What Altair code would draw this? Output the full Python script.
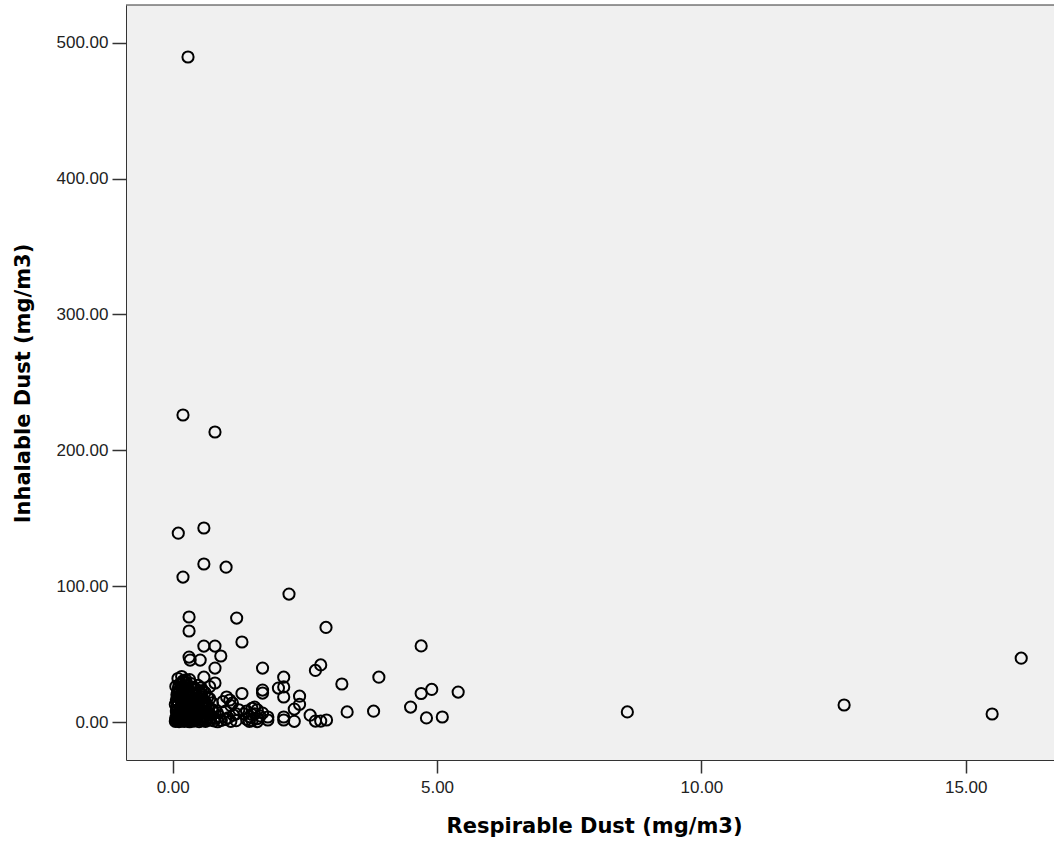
import altair as alt
import pandas as pd

# ---- data ----
# isolated / clearly readable points
x_out = [0.29, 0.195, 0.80, 0.106, 0.59, 0.195, 0.59, 1.01, 2.20, 0.31, 1.21, 0.31, 2.90,
         1.31, 0.59, 0.80, 4.70, 0.31, 0.33, 0.52, 0.91, 0.80, 1.70, 2.80, 2.70, 16.05,
         3.90, 3.20, 4.90, 4.70, 5.40, 2.10, 2.10, 2.00, 1.70, 1.70, 1.31, 2.40, 2.10,
         2.40, 2.30, 2.60, 2.70, 2.80, 2.91, 2.30, 2.10, 2.10, 1.80, 1.80, 1.70, 3.30,
         3.80, 4.50, 4.80, 5.10, 8.60, 12.70, 15.50, 0.19, 0.59, 0.80, 0.70, 1.02, 1.08, 1.13]
y_out = [489.5, 226.0, 213.5, 139.0, 142.8, 106.7, 116.3, 114.0, 94.2, 77.3, 76.5, 67.0, 69.6,
         58.9, 55.9, 55.9, 56.0, 47.8, 45.6, 45.6, 48.6, 39.7, 39.7, 42.0, 38.0, 47.0,
         33.0, 28.0, 24.0, 21.0, 22.0, 33.0, 25.8, 25.0, 23.5, 21.3, 21.0, 19.0, 18.4,
         13.0, 9.5, 5.0, 0.7, 0.7, 1.5, 0.5, 3.7, 1.5, 3.7, 1.5, 6.6, 7.4,
         8.0, 11.0, 3.0, 3.7, 7.4, 12.5, 5.9, 30.0, 33.0, 28.7, 26.0, 18.4, 16.2, 14.0]

# dense cluster near the origin
x_dense = [0.05, 0.08, 0.12, 0.15, 0.18, 0.22, 0.25, 0.28, 0.32, 0.35, 0.40, 0.45, 0.50, 0.55, 0.62, 0.70, 0.78, 0.85, 0.92,
           0.06, 0.09, 0.11, 0.14, 0.17, 0.20, 0.24, 0.27, 0.30, 0.34, 0.38, 0.42, 0.47, 0.52, 0.58, 0.65, 0.72, 0.80, 0.88,
           0.07, 0.10, 0.13, 0.16, 0.19, 0.23, 0.26, 0.29, 0.33, 0.37, 0.41, 0.46, 0.51, 0.56, 0.63, 0.69, 0.76, 0.84,
           0.08, 0.11, 0.14, 0.18, 0.21, 0.25, 0.29, 0.33, 0.38, 0.43, 0.49, 0.55, 0.61, 0.68, 0.75,
           0.07, 0.12, 0.16, 0.20, 0.24, 0.28, 0.33, 0.39, 0.45, 0.52, 0.60, 0.66,
           0.09, 0.14, 0.19, 0.24, 0.30, 0.36, 0.43, 0.50, 0.57,
           0.12, 0.20, 0.28, 0.35]
y_dense = [0.5, 1.2, 0.3, 1.8, 0.8, 0.4, 1.5, 0.9, 0.2, 1.1, 0.6, 1.7, 0.3, 1.0, 0.5, 1.4, 0.8, 0.2, 1.2,
           3.2, 4.5, 2.4, 5.1, 3.8, 2.6, 4.9, 3.3, 5.6, 2.8, 4.1, 3.5, 5.3, 2.2, 4.4, 3.0, 5.0, 2.7, 4.2,
           7.5, 6.3, 9.1, 8.2, 6.8, 9.6, 7.1, 8.7, 6.1, 9.3, 7.8, 6.6, 8.9, 7.3, 9.8, 6.4, 8.0, 7.0,
           11.2, 13.8, 10.5, 12.6, 14.4, 11.7, 13.1, 10.9, 14.8, 12.2, 11.0, 13.6, 12.9, 10.4, 14.1,
           16.3, 18.5, 15.6, 19.2, 17.1, 15.9, 18.8, 16.7, 19.6, 17.5, 15.3, 18.1,
           21.5, 23.8, 20.6, 24.9, 22.3, 20.9, 24.2, 21.8, 23.1,
           27.5, 29.0, 26.5, 28.2]

# more of the solid black mass
x_dense2 = [0.06, 0.10, 0.13, 0.17, 0.21, 0.26, 0.31, 0.36, 0.41, 0.47,
            0.07, 0.11, 0.15, 0.19, 0.23, 0.27, 0.32, 0.37, 0.43,
            0.05, 0.09, 0.14, 0.18, 0.22, 0.26, 0.31, 0.36, 0.42, 0.48,
            0.08, 0.12, 0.17, 0.22, 0.27, 0.33, 0.39,
            0.06, 0.11, 0.16, 0.21, 0.26, 0.32,
            0.10, 0.17, 0.25]
y_dense2 = [2.0, 0.9, 3.6, 1.4, 6.0, 2.9, 4.3, 7.2, 1.9, 3.9,
            8.4, 5.6, 10.2, 11.8, 9.0, 12.4, 14.1, 10.6, 8.1,
            12.9, 15.2, 17.3, 14.6, 16.8, 19.9, 21.2, 17.9, 16.0, 12.0,
            20.1, 22.7, 24.0, 18.3, 23.5, 25.6, 20.4,
            26.2, 25.0, 27.9, 30.5, 28.8, 31.2,
            32.0, 33.5, 31.0]

# right side of the black mass (x 0.4 - 0.75)
x_dense3 = [0.44, 0.49, 0.54, 0.59, 0.64, 0.69, 0.74,
            0.46, 0.51, 0.57, 0.62, 0.67, 0.72,
            0.41, 0.47, 0.53, 0.58, 0.64, 0.70,
            0.44, 0.50, 0.55, 0.61,
            0.40, 0.48, 0.54]
y_dense3 = [2.5, 6.8, 3.9, 8.3, 1.9, 5.7, 9.4,
            11.5, 9.6, 12.8, 6.9, 10.9, 3.4,
            16.9, 14.9, 18.9, 15.8, 13.5, 17.2,
            20.3, 22.9, 20.0, 21.7,
            25.4, 27.0, 25.1]

# small group around 1.0 - 1.7
x_mid = [1.40, 1.45, 1.50, 1.50, 1.55, 1.60, 1.60, 1.65, 1.40, 1.45, 1.55, 1.35, 1.60, 1.50,
         1.00, 1.05, 1.10, 1.15, 1.20, 1.25, 1.10, 1.00, 0.95, 1.20]
y_mid = [8.0, 4.0, 10.0, 1.0, 6.0, 2.5, 9.0, 4.5, 2.0, 0.5, 11.0, 6.0, 0.3, 5.5,
         8.0, 3.0, 12.0, 5.0, 1.0, 9.0, 0.5, 2.0, 15.0, 6.0]

x_ticks = [0, 5, 10, 15]
y_ticks = [0, 100, 200, 300, 400, 500]

df = pd.DataFrame({
    "resp": x_out + x_dense + x_dense2 + x_dense3 + x_mid,
    "inh": y_out + y_dense + y_dense2 + y_dense3 + y_mid,
})

W, H = 928, 755

points = alt.Chart(df).mark_point(
    shape="circle", filled=False, color="black", size=125, strokeWidth=2, opacity=1
).encode(
    x=alt.X("resp:Q",
            scale=alt.Scale(domain=[-0.883, 16.67], nice=False, zero=False),
            axis=alt.Axis(values=x_ticks, format=".2f", title="Respirable Dust (mg/m3)",
                          tickSize=13, labelPadding=6,
                          titleX=468, titleY=72, titleBaseline="alphabetic", titleAlign="center")),
    y=alt.Y("inh:Q",
            scale=alt.Scale(domain=[-27.97, 527.8], nice=False, zero=False),
            axis=alt.Axis(values=y_ticks, format=".2f", title="Inhalable Dust (mg/m3)",
                          tickSize=14, labelPadding=4,
                          titleAngle=270, titleX=-97, titleY=378,
                          titleBaseline="alphabetic", titleAlign="center")),
)

top = alt.Chart(pd.DataFrame({"a": [0]})).mark_rule(color="#333333", strokeWidth=1).encode(
    x=alt.value(0), x2=alt.value(W), y=alt.value(0)
)

chart = alt.layer(points, top).properties(
    width=W, height=H,
    autosize=alt.AutoSizeParams(type="none"),
    padding={"left": 126, "top": 5, "right": 0, "bottom": 78},
    background="white",
).configure_view(
    stroke=None, fill="#F0F0F0"
).configure_axis(
    grid=False,
    domainColor="#333333", domainWidth=1,
    tickColor="#333333", tickWidth=1.5,
    labelFont="Liberation Sans", labelFontSize=17, labelColor="#222222",
    titleFont="DejaVu Sans", titleFontSize=21, titleFontWeight="bold", titleColor="#000000",
)

chart.save("out.html", embed_options={"renderer": "svg", "actions": False})
